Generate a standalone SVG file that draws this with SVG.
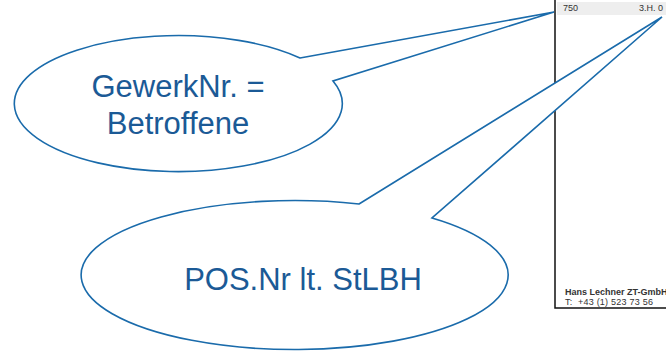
<svg xmlns="http://www.w3.org/2000/svg" width="666" height="353" viewBox="0 0 666 353">
<style>
.callout{fill:#ffffff;stroke:#1a6bab;stroke-width:1.6;stroke-linejoin:miter}
.ct{font-family:"Liberation Sans",Arial,sans-serif;font-size:31px;fill:#1b5a96;text-anchor:middle}
.doc{font-family:"Liberation Sans",Arial,sans-serif;fill:#333333}
</style>
<rect width="666" height="353" fill="#ffffff"/>
<g id="document">
<rect x="557" y="2" width="109" height="13" fill="#eeeeee"/>
<text class="doc" x="563" y="11" font-size="9">750</text>
<text class="doc" x="639" y="11" font-size="9">3.H. 0</text>
<text class="doc" x="565" y="295" font-size="9" font-weight="bold" fill="#222222">Hans Lechner ZT-GmbH</text>
<text class="doc" x="565" y="305" font-size="9" xml:space="preserve" textLength="88" lengthAdjust="spacing">T:  +43 (1) 523 73 56</text>
<path d="M555,0 V308 H666" fill="none" stroke="#111111" stroke-width="1.5"/>
</g>
<g id="callout-gewerk">
<path class="callout" d="M300,58 L554,12 L333,81 A164,68 0 1 1 300,58 Z"/>
<text class="ct" x="178" y="97">GewerkNr. =</text>
<text class="ct" x="178" y="134">Betroffene</text>
</g>
<g id="callout-pos">
<path class="callout" d="M359,204 L662,17 L432,218 A213.5,74.5 0 1 1 359,204 Z"/>
<text class="ct" x="303" y="290">POS.Nr lt. StLBH</text>
</g>
<g id="connectors"></g>
</svg>
